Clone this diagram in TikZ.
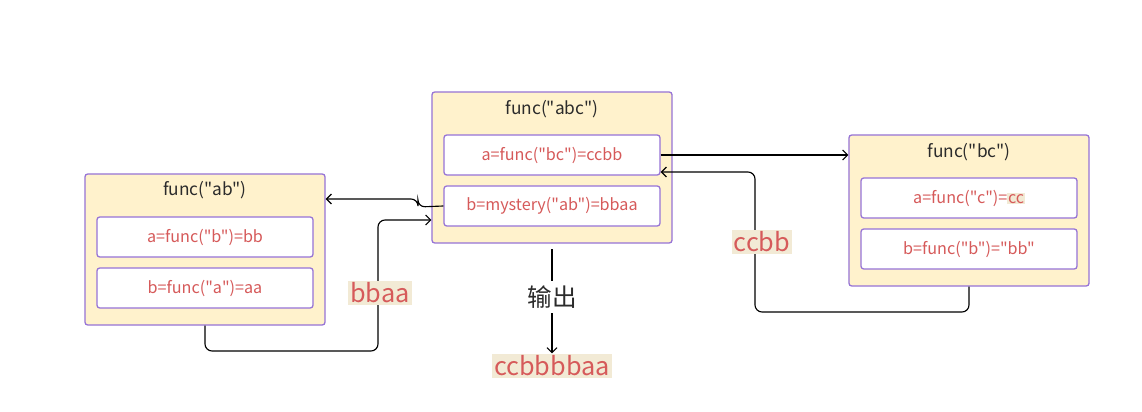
\documentclass[tikz,border=0pt]{standalone}
\usepackage{fontspec}
\newfontfamily\notofont{Noto Sans CJK SC}
\usetikzlibrary{arrows.meta}

\definecolor{framebg}{HTML}{FFF2CC}
\definecolor{framedraw}{HTML}{9673D6}
\definecolor{calltext}{HTML}{D65A5A}
\definecolor{valuebg}{HTML}{F2EAD5}
\definecolor{titletext}{HTML}{2B2B2B}

\begin{document}
\begin{tikzpicture}[x=0.025cm,y=-0.025cm,font=\notofont\fontsize{11.5}{13}\selectfont,
  >={Straight Barb[length=3.5pt,width=7pt]},
  frame/.style={draw=framedraw,fill=framebg,line width=0.9pt,rounded corners=2pt,
                minimum width=6cm,minimum height=3.775cm},
  title/.style={text=titletext,font=\notofont\fontsize{12.3}{14}\selectfont},
  call/.style={draw=framedraw,fill=white,line width=0.9pt,rounded corners=2pt,
               minimum width=5.4cm,minimum height=1cm,text=calltext},
  value/.style={fill=valuebg,text=calltext,inner sep=1.5pt,
                font=\notofont\fontsize{18}{20}\selectfont},
  link/.style={->,line width=0.8pt,rounded corners=5pt}]
\useasboundingbox (0,0) rectangle (1142,412);

% func("ab")
\node[frame] (ab)   at (205,249.5) {};
\node[title]        at (205,190)   {func("ab")};
\node[call]  (ab-a) at (205,237)   {a=func("b")=bb};
\node[call]  (ab-b) at (205,288)   {b=func("a")=aa};

% func("abc")
\node[frame] (abc)   at (552,167.5) {};
\node[title]         at (552,109)   {func("abc")};
\node[call]  (abc-a) at (552,155)   {a=func("bc")=ccbb};
\node[call]  (abc-b) at (552,206)   {b=mystery("ab")=bbaa};

% func("bc")
\node[frame] (bc)   at (969,210.5) {};
\node[title]        at (969,152)   {func("bc")};
\node[call]  (bc-a) at (969,198)   {a=func("c")={\fboxsep=0.5pt\colorbox{valuebg}{cc}}};
\node[call]  (bc-b) at (969,249)   {b=func("b")="bb"};

% calls and returns
\draw[link] (abc-a.east) -- (bc.west |- abc-a.east);
\draw[link] (bc.south) -- (969,312) -| (755,172) -- (abc-a.east |- 0,172);
\node[value] at (762,242) {ccbb};

\draw[link] (abc-b.west) -- (418,207) |- (ab.east |- 0,199);
\draw[link] (ab.south) -- (205,351) -| (378,220) -- (abc.west |- 0,220);
\node[value] at (380,293) {bbaa};

% output
\node[title,font=\notofont\fontsize{17.5}{19}\selectfont] (out) at (552,297) {输出};
\node[value] (res) at (552,366) {ccbbbbaa};
\draw[line width=0.8pt] ([yshift=-4pt]abc.south) -- (out);
\draw[link] (out) -- (res);
\end{tikzpicture}
\end{document}
